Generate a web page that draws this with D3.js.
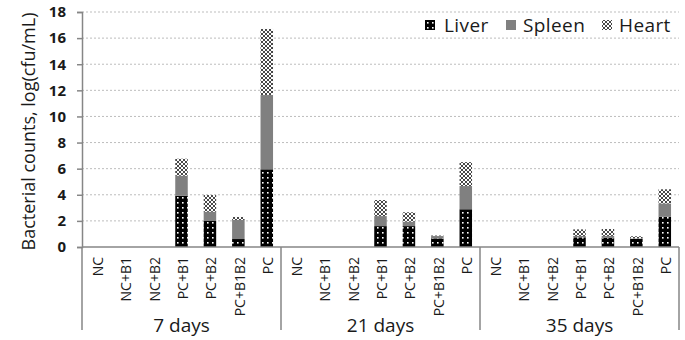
<!DOCTYPE html>
<html><head><meta charset="utf-8">
<script src="https://cdn.jsdelivr.net/npm/d3@7"></script>
<style>body{margin:0;background:#fff;} text{font-family:"Open Sans",sans-serif;}</style>
</head><body>
<svg id="chart" width="685" height="340"></svg>
<script>
const groups = ["7 days", "21 days", "35 days"];
const categories = ["NC", "NC+B1", "NC+B2", "PC+B1", "PC+B2", "PC+B1B2", "PC"];
const seriesNames = ["Liver", "Spleen", "Heart"];
// values per group, per category
const liver = [
  [0, 0, 0, 3.93, 1.99, 0.61, 5.95],
  [0, 0, 0, 1.6, 1.6, 0.66, 2.89],
  [0, 0, 0, 0.74, 0.7, 0.62, 2.32]
];
const spleen = [
  [0, 0, 0, 1.53, 0.71, 1.46, 5.69],
  [0, 0, 0, 0.77, 0.34, 0.18, 1.78],
  [0, 0, 0, 0.11, 0.15, 0.04, 1.02]
];
const heart = [
  [0, 0, 0, 1.3, 1.28, 0.23, 5.06],
  [0, 0, 0, 1.23, 0.72, 0.04, 1.83],
  [0, 0, 0, 0.5, 0.53, 0.16, 1.08]
];
const yTicks = [0, 2, 4, 6, 8, 10, 12, 14, 16, 18];

const svg = d3.select("#chart");
const mLeft = 82, mRight = 679, mTop = 12, mBottom = 247;
const axisColor = "#868686";
const textColor = "#1a1a1a";

const defs = svg.append("defs");
const pl = defs.append("pattern").attr("id", "pLiver").attr("patternUnits", "userSpaceOnUse")
  .attr("width", 5).attr("height", 5);
pl.append("rect").attr("width", 5).attr("height", 5).attr("fill", "#000");
pl.append("rect").attr("x", 2).attr("y", 2).attr("width", 1.6).attr("height", 1.6).attr("fill", "#fff");
const ph = defs.append("pattern").attr("id", "pHeart").attr("patternUnits", "userSpaceOnUse")
  .attr("width", 4).attr("height", 4);
ph.append("rect").attr("width", 4).attr("height", 4).attr("fill", "#fff");
ph.append("path").attr("d", "M0,0L4,4M4,0L0,4").attr("stroke", "#333").attr("stroke-width", 0.9);
const fills = ["url(#pLiver)", "#808080", "url(#pHeart)"];

const y = d3.scaleLinear().domain([0, 18]).range([mBottom, mTop]);
const xg = d3.scaleBand().domain(groups).range([mLeft, mRight]);
const xc = d3.scaleBand().domain(categories).range([0, xg.bandwidth()]).paddingInner(0.56).paddingOuter(0.28);

// gridlines
svg.append("g").selectAll("line").data(yTicks.filter(d => d > 0)).join("line")
  .attr("x1", mLeft).attr("x2", mRight).attr("y1", d => y(d)).attr("y2", d => y(d))
  .attr("stroke", "#bdbdbd").attr("stroke-dasharray", "2,2").attr("stroke-width", 1);

// y axis
const yAxis = svg.append("g").attr("transform", `translate(${mLeft},0)`)
  .call(d3.axisLeft(y).tickValues(yTicks).tickSize(5).tickPadding(11));
yAxis.select(".domain").attr("stroke", axisColor).attr("stroke-width", 1.5);
yAxis.selectAll(".tick line").attr("stroke", axisColor).attr("stroke-width", 1.5);
yAxis.selectAll(".tick text").attr("font-size", 15).attr("font-weight", "bold").attr("fill", textColor)
  .style("font-family", "'Open Sans',sans-serif");

// stacked bars
const series = [liver, spleen, heart];
groups.forEach((g, gi) => {
  const rows = categories.map((c, ci) => ({ c, v: series.map(s => s[gi][ci]) }));
  rows.forEach(r => {
    let acc = 0;
    r.v.forEach((val, si) => {
      if (val > 0) {
        svg.append("rect")
          .attr("x", xg(g) + xc(r.c)).attr("width", xc.bandwidth())
          .attr("y", y(acc + val)).attr("height", y(acc) - y(acc + val))
          .attr("fill", fills[si]);
      }
      acc += val;
    });
  });
});

// x axis lines
svg.append("line").attr("x1", mLeft).attr("x2", mRight).attr("y1", mBottom).attr("y2", mBottom)
  .attr("stroke", axisColor).attr("stroke-width", 1.5);
const dividers = groups.map(g => xg(g)).concat([mRight]);
svg.append("g").selectAll("line").data(dividers).join("line")
  .attr("x1", d => d).attr("x2", d => d).attr("y1", mBottom).attr("y2", 330)
  .attr("stroke", axisColor).attr("stroke-width", 1.5);

// category labels
groups.forEach(g => {
  svg.append("g").selectAll("text").data(categories).join("text")
    .attr("transform", c => `translate(${xg(g) + xc(c) + xc.bandwidth() / 2 + 1},257) rotate(-90)`)
    .attr("text-anchor", "end").attr("dominant-baseline", "central")
    .attr("font-size", 14).attr("fill", textColor).text(c => c);
});
// group labels
svg.append("g").selectAll("text").data(groups).join("text")
  .attr("x", g => xg(g) + xg.bandwidth() / 2).attr("y", 332)
  .attr("text-anchor", "middle").attr("font-size", 19).attr("fill", textColor).text(g => g);

// y title
svg.append("text").attr("transform", `translate(28,${(mTop + mBottom) / 2 + 2}) rotate(-90)`)
  .attr("text-anchor", "middle").attr("dominant-baseline", "central")
  .attr("font-size", 18).attr("fill", textColor).text("Bacterial counts, log(cfu/mL)");

// legend
const legX = [425, 506, 602];
const leg = svg.append("g");
leg.append("rect").attr("x", 418).attr("y", 14).attr("width", 258).attr("height", 22).attr("fill", "#fff");
seriesNames.forEach((n, i) => {
  leg.append("rect").attr("x", legX[i]).attr("y", 20).attr("width", 10).attr("height", 10).attr("fill", fills[i]);
  leg.append("text").attr("x", legX[i] + (i === 0 ? 19 : 17)).attr("y", 25)
    .attr("dominant-baseline", "central").attr("font-size", 19).attr("letter-spacing", 0.4)
    .attr("fill", textColor).text(n);
});
</script>
</body></html>
